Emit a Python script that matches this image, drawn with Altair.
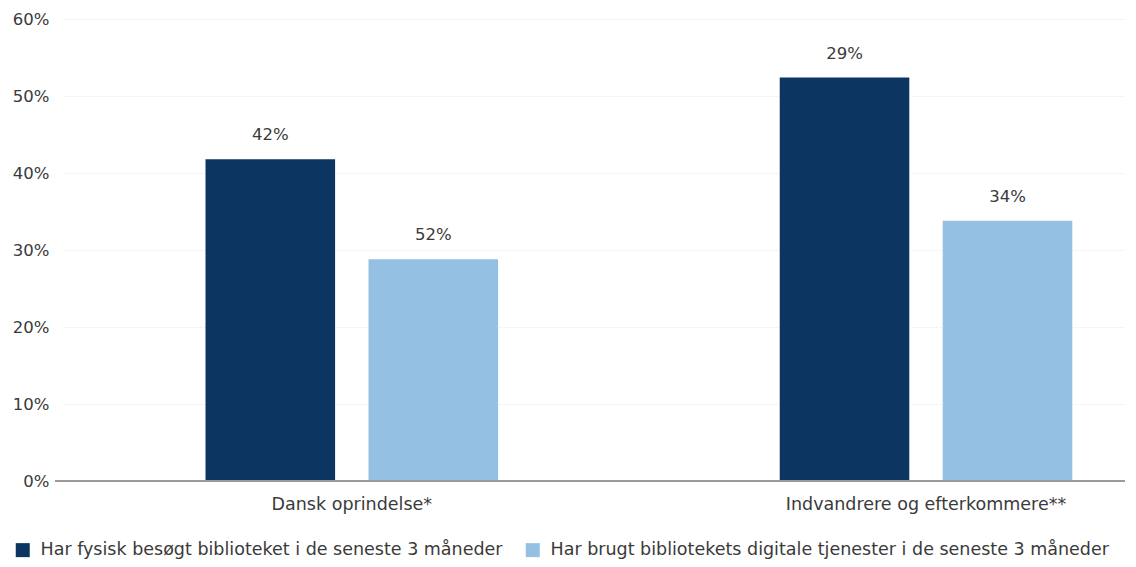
import altair as alt
import pandas as pd

categories = ["Dansk oprindelse*", "Indvandrere og efterkommere**"]
series = [
    "Har fysisk besøgt biblioteket i de seneste 3 måneder",
    "Har brugt bibliotekets digitale tjenester i de seneste 3 måneder",
]
physical_values = [41.8, 52.4]
digital_values = [28.8, 33.8]
physical_labels = ["42%", "29%"]
digital_labels = ["52%", "34%"]
colors = ["#0d3561", "#94c1e3"]
y_ticks = [0, 10, 20, 30, 40, 50, 60]

rows = []
for i, c in enumerate(categories):
    rows.append({"cat": c, "series": series[0], "value": physical_values[i], "label": physical_labels[i]})
    rows.append({"cat": c, "series": series[1], "value": digital_values[i], "label": digital_labels[i]})
df = pd.DataFrame(rows)

W = 1062
H = 462
FONT = "DejaVu Sans"
FS_NUM = 16.5
FS_TXT = 17.5
TXT = "#3a3a3a"

x_enc = alt.X(
    "cat:N", sort=categories, title=None,
    scale=alt.Scale(paddingInner=0.4905, paddingOuter=0.17, align=0.73),
    axis=alt.Axis(labelAngle=0, ticks=False, domain=False, labelFontSize=FS_TXT, labelLimit=1000,
                  labelPadding=14, labelColor=TXT, labelFont=FONT, grid=False),
)
xo_enc = alt.XOffset("series:N", sort=series, scale=alt.Scale(paddingInner=0.205, paddingOuter=0))
y_enc = alt.Y(
    "value:Q", title=None,
    scale=alt.Scale(domain=[0, 60], nice=False),
    axis=alt.Axis(values=y_ticks, labelExpr="datum.value + '%'", ticks=False, domain=False,
                  labelFontSize=FS_NUM, labelColor=TXT, labelFont=FONT, labelPadding=14,
                  gridColor="#ececec", gridDash=[2, 2], gridWidth=1),
)

base = alt.Chart(df).encode(x=x_enc, xOffset=xo_enc)

bars = base.mark_bar().encode(
    y=y_enc,
    color=alt.Color(
        "series:N", sort=series, title=None,
        scale=alt.Scale(domain=series, range=colors),
        legend=alt.Legend(orient="none", legendX=-49, legendY=H + 60, direction="horizontal",
                          symbolType="square", symbolSize=196, symbolStrokeWidth=0,
                          labelFontSize=FS_TXT, labelColor=TXT, labelFont=FONT, labelOffset=9,
                          columnPadding=21, labelLimit=0),
    ),
)

labels = base.mark_text(baseline="bottom", dy=-16, fontSize=FS_NUM, font=FONT, color=TXT).encode(
    y=alt.Y("value:Q"), text="label:N"
)

baseline = alt.Chart(pd.DataFrame({"v": [0]})).mark_rule(color="#9a9a9a", strokeWidth=2).encode(
    y="v:Q", x=alt.value(-8), x2=alt.value(W)
)

chart = (
    alt.layer(bars, labels, baseline)
    .properties(width=W, height=H, autosize=alt.AutoSizeParams(type="none"),
                padding={"left": 55, "top": 11, "right": 0, "bottom": 80})
    .configure_view(stroke=None)
)

chart.save("out.html", embed_options={"renderer": "svg", "actions": False})
